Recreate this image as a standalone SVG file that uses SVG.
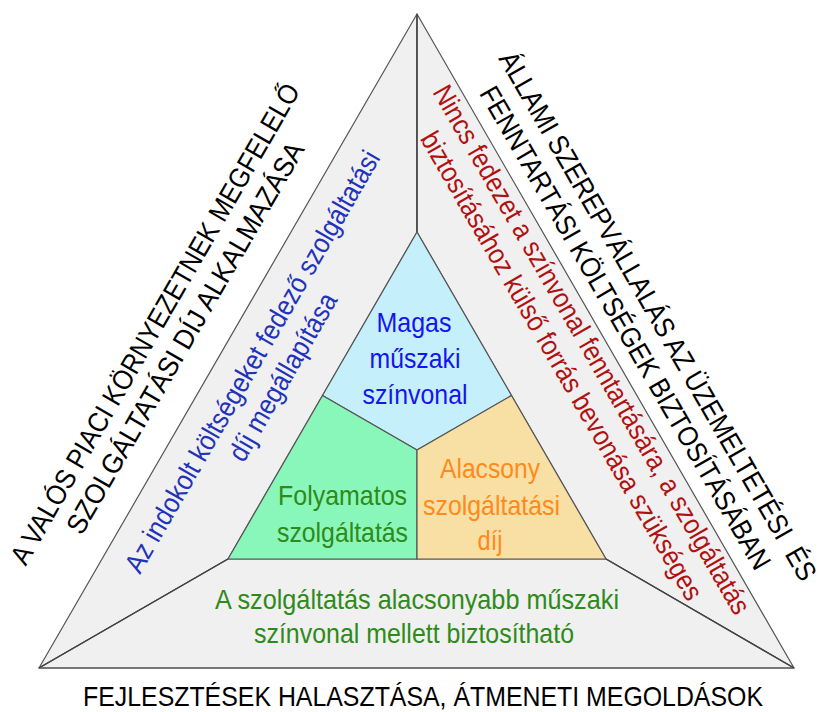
<svg xmlns="http://www.w3.org/2000/svg" width="826" height="712" viewBox="0 0 826 712">
<style>
text{font-family:"Liberation Sans Narrow","Liberation Sans",Arial,sans-serif;font-size:28px;text-anchor:middle}
.band{fill:#f0f0f0;stroke:#555;stroke-width:1.2;stroke-linejoin:round}
.reg{stroke:#555;stroke-width:1.2;stroke-linejoin:round}
.edge{stroke:#444;stroke-width:1.4;fill:none}
.blk{fill:#000}
.blu{fill:#1515ee}
.dblu{fill:#2233bb}
.red{fill:#b01212}
.grn{fill:#2f8a1a}
.org{fill:#ff8a1a}
</style>
<rect width="826" height="712" fill="#fff"/>
<g id="band-left">
<polygon class="band" points="417,14 417,232 228,559 39,668"/>
<text class="dblu" transform="rotate(-60 260.5 366.3)" x="260.5" y="366.3" textLength="482" lengthAdjust="spacingAndGlyphs">Az indokolt költségeket fedező szolgáltatási</text>
<text class="dblu" transform="rotate(-60 291 381.6)" x="291" y="381.6" textLength="189" lengthAdjust="spacingAndGlyphs">díj megállapítása</text>
</g>
<g id="band-right">
<polygon class="band" points="417,14 794,668 606,559 417,232"/>
<text class="red" transform="rotate(60 583.5 354.3)" x="583.5" y="354.3" textLength="606" lengthAdjust="spacingAndGlyphs">Nincs fedezet a színvonal fenntartására, a szolgáltatás</text>
<text class="red" transform="rotate(60 553.5 370.5)" x="553.5" y="370.5" textLength="536" lengthAdjust="spacingAndGlyphs">biztosításához külső forrás bevonása szükséges</text>
</g>
<g id="band-bottom">
<polygon class="band" points="39,668 228,559 606,559 794,668"/>
<line x1="39" y1="668" x2="794" y2="668" stroke="#777" stroke-width="2.2"/>
<text class="grn" x="417" y="609" textLength="404" lengthAdjust="spacingAndGlyphs">A szolgáltatás alacsonyabb műszaki</text>
<text class="grn" x="414" y="643" textLength="320" lengthAdjust="spacingAndGlyphs">színvonal mellett biztosítható</text>
</g>
<g id="inner-top">
<polygon class="reg" fill="#c6effc" points="417,232 511.5,395.5 417,450 322.5,395.5"/>
<text class="blu" x="414" y="332" textLength="75" lengthAdjust="spacingAndGlyphs">Magas</text>
<text class="blu" x="415" y="368" textLength="91" lengthAdjust="spacingAndGlyphs">műszaki</text>
<text class="blu" x="415" y="404" textLength="105" lengthAdjust="spacingAndGlyphs">színvonal</text>
</g>
<g id="inner-left">
<polygon class="reg" fill="#88f7b9" points="322.5,395.5 417,450 417,559 228,559"/>
<text class="grn" x="342.5" y="505" textLength="129" lengthAdjust="spacingAndGlyphs">Folyamatos</text>
<text class="grn" x="342.5" y="542" textLength="131" lengthAdjust="spacingAndGlyphs">szolgáltatás</text>
</g>
<g id="inner-right">
<polygon class="reg" fill="#f8dfa4" points="511.5,395.5 606,559 417,559 417,450"/>
<text class="org" x="490" y="478" textLength="100" lengthAdjust="spacingAndGlyphs">Alacsony</text>
<text class="org" x="491.5" y="515" textLength="137" lengthAdjust="spacingAndGlyphs">szolgáltatási</text>
<text class="org" x="490" y="550" textLength="25" lengthAdjust="spacingAndGlyphs">díj</text>
</g>
<g id="connectors">
<line class="edge" x1="417" y1="14" x2="417" y2="232"/>
<line class="edge" x1="39" y1="668" x2="228" y2="559"/>
<line class="edge" x1="794" y1="668" x2="606" y2="559"/>
</g>
<g id="label-left">
<text class="blk" transform="rotate(-60 163.3 328.7)" x="163.3" y="328.7" textLength="550" lengthAdjust="spacingAndGlyphs">A VALÓS PIACI KÖRNYEZETNEK MEGFELELŐ</text>
<text class="blk" transform="rotate(-60 193.4 342.6)" x="193.4" y="342.6" textLength="447" lengthAdjust="spacingAndGlyphs">SZOLGÁLTATÁSI DÍJ ALKALMAZÁSA</text>
</g>
<g id="label-right">
<text class="blk" transform="rotate(60 649.6 320.8)" x="649.6" y="320.8" textLength="606" lengthAdjust="spacingAndGlyphs" style="white-space:pre">ÁLLAMI SZEREPVÁLLALÁS AZ ÜZEMELTETÉSI  ÉS</text>
<text class="blk" transform="rotate(60 617.1 332.6)" x="617.1" y="332.6" textLength="553" lengthAdjust="spacingAndGlyphs">FENNTARTÁSI KÖLTSÉGEK BIZTOSÍTÁSÁBAN</text>
</g>
<g id="label-bottom">
<text class="blk" x="423" y="706" textLength="680" lengthAdjust="spacingAndGlyphs">FEJLESZTÉSEK HALASZTÁSA, ÁTMENETI MEGOLDÁSOK</text>
</g>
</svg>
